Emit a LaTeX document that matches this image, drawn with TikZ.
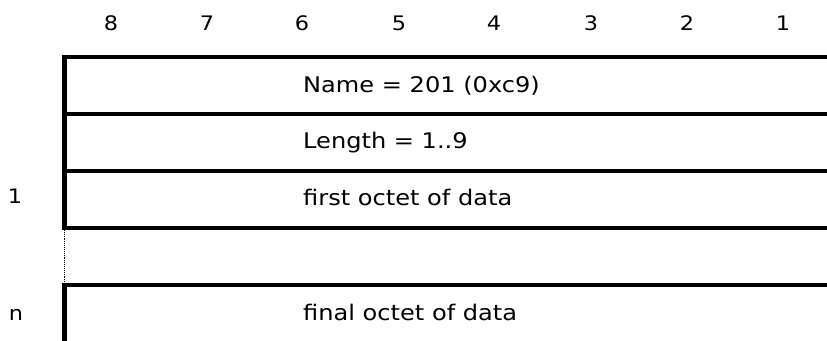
\documentclass[tikz,border=0pt]{standalone}
\usepackage{fontspec}
\setmainfont{DejaVu Sans}[FakeStretch=1.12]
\begin{document}
\begin{tikzpicture}[x=1pt,y=-1pt,
  bar/.style={line width=4.6pt, line join=miter},
  dotline/.style={line width=0.9pt, densely dotted},
  rowtext/.style={anchor=base west, inner sep=0pt, font=\fontsize{21.5pt}{24pt}\selectfont},
  colnum/.style={anchor=base, inner sep=0pt, font=\fontsize{20pt}{22pt}\selectfont}]
\useasboundingbox (0,0) rectangle (827,340);
% column numbers
\foreach \n/\xx in {8/111,7/207,6/302,5/399,4/494,3/591,2/687,1/783}
  \node[colnum] (c\n) at (\xx,30) {\n};
% rows
\draw[bar] (830,57) -- (64.3,57) -- (64.3,114);
\draw[bar] (830,114) -- (64.3,114) -- (64.3,171);
\draw[bar] (830,171) -- (64.3,171) -- (64.3,228);
\draw[bar] (830,228) -- (62,228);
\draw[dotline] (64.3,228) -- (64.3,285);
\draw[bar] (830,285) -- (64.3,285) -- (64.3,345);
% texts
\node[rowtext] (tname) at (303,92) {Name = 201 (0xc9)};
\node[rowtext] (tlen) at (303,148) {Length = 1..9};
\node[rowtext] (tfirst) at (303,205) {first octet of data};
\node[rowtext] (tfinal) at (303,320) {final octet of data};
\node[colnum] (l1) at (15,203) {1};
\node[colnum] (ln) at (16,320) {n};
\end{tikzpicture}
\end{document}
